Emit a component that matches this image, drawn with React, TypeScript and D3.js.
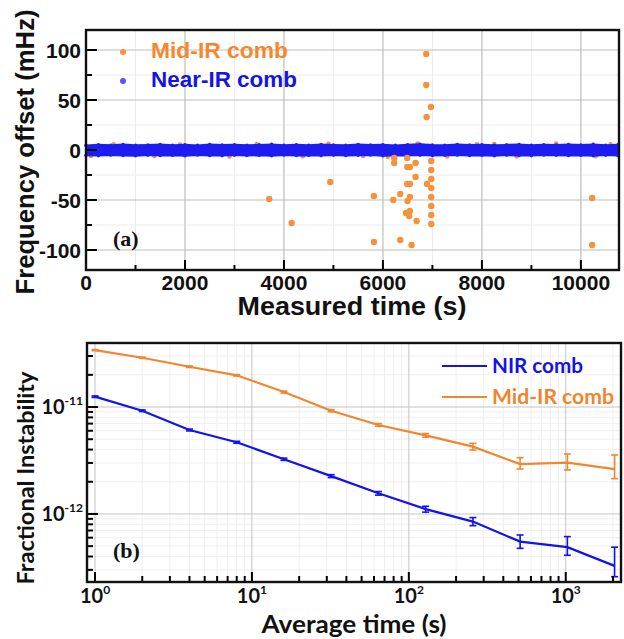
import * as d3 from 'd3'

// panel (a): measured time trace
const timeTicks = [0, 2000, 4000, 6000, 8000, 10000]
const timeMinor = [1000, 3000, 5000, 7000, 9000]
const offsetTicks = [-100, -50, 0, 50, 100]
const offsetMinor = [-75, -25, 25, 75]

// Mid-IR outliers (s, mHz)
const midOutT = [3703, 4155, 4936, 5818, 5818, 6208, 6228, 6228, 6350, 6350, 6491, 6491, 6491, 6497, 6545, 6545, 6545, 6545, 6465, 6531, 6579, 6660, 6660, 6680, 6875, 6875, 6883, 6970, 6889, 6976, 6976, 6976, 6976, 6976, 6976, 6976, 6976, 10228, 10228]
const midOutV = [-49, -73, -32, -46, -92, -50, -8, -13, -44, -90, -8, -17, -34, -51, -17, -34, -47, -61, -63, -66, -95, -13, -27, -71, 96, 65, 33, 43, -34, -11, -20, -29, -38, -47, -56, -65, -74, -48, -95]

// Mid-IR points peeking out of the Near-IR band
const midBandT = [100, 560, 1380, 1900, 2900, 3450, 4380, 4900, 5600, 6100, 6700, 7300, 7900, 8250, 8700, 9500, 10300, 10600]
const midBandV = [-6, 5.8, -6, 5.5, -6.5, 6, -6.3, 6.2, -6, -6.8, 6.4, -6.5, 5.8, 6, -6.5, 6.4, -6.3, 5.6]

// Near-IR band envelope (mHz)
const nirBandT = [0, 250, 500, 750, 1000, 1250, 1500, 1750, 2000, 2250, 2500, 2750, 3000, 3250, 3500, 3750, 4000, 4250, 4500, 4750, 5000, 5250, 5500, 5750, 6000, 6250, 6500, 6750, 7000, 7250, 7500, 7750, 8000, 8250, 8500, 8750, 9000, 9250, 9500, 9750, 10000, 10250, 10500, 10750]
const nirBandHi = [4.6, 5.2, 4.8, 5.4, 4.7, 5.0, 5.5, 4.8, 5.2, 4.6, 5.4, 4.9, 5.3, 4.7, 5.1, 5.6, 4.8, 5.2, 4.7, 5.4, 5.0, 4.8, 5.5, 4.9, 5.3, 4.6, 5.2, 5.7, 5.0, 4.8, 5.4, 4.9, 5.3, 4.7, 5.1, 5.5, 4.8, 5.2, 4.9, 5.4, 5.0, 5.6, 4.8, 5.2]
const nirBandLo = [-5.2, -5.6, -5.0, -5.4, -5.8, -5.1, -5.5, -5.2, -5.7, -5.0, -5.4, -5.6, -5.1, -5.5, -5.3, -5.7, -5.0, -5.4, -5.2, -5.6, -5.1, -5.5, -5.3, -5.0, -5.7, -5.2, -5.4, -5.1, -5.6, -5.3, -5.0, -5.5, -5.2, -5.7, -5.1, -5.4, -5.6, -5.0, -5.3, -5.5, -5.2, -5.7, -5.1, -5.4]

// panel (b): Allan deviation
const tau = [1, 2, 4, 8, 16, 32, 64, 128, 256, 512, 1024, 2048]
const midAdev = [3.41e-11, 2.89e-11, 2.38e-11, 1.98e-11, 1.38e-11, 9.24e-12, 6.79e-12, 5.43e-12, 4.26e-12, 2.93e-12, 3.02e-12, 2.63e-12]
const midHi = [3.45e-11, 2.93e-11, 2.42e-11, 2.01e-11, 1.41e-11, 9.45e-12, 7.0e-12, 5.65e-12, 4.58e-12, 3.36e-12, 3.64e-12, 3.56e-12]
const midLo = [3.37e-11, 2.85e-11, 2.34e-11, 1.95e-11, 1.35e-11, 9.03e-12, 6.6e-12, 5.22e-12, 3.96e-12, 2.63e-12, 2.58e-12, 2.14e-12]
const nirAdev = [1.25e-11, 9.24e-12, 6.1e-12, 4.68e-12, 3.25e-12, 2.26e-12, 1.56e-12, 1.11e-12, 8.48e-13, 5.51e-13, 4.89e-13, 3.27e-13]
const nirHi = [1.27e-11, 9.4e-12, 6.22e-12, 4.78e-12, 3.33e-12, 2.33e-12, 1.62e-12, 1.18e-12, 9.25e-13, 6.36e-13, 6.14e-13, 4.89e-13]
const nirLo = [1.23e-11, 9.08e-12, 5.98e-12, 4.58e-12, 3.17e-12, 2.19e-12, 1.5e-12, 1.04e-12, 7.77e-13, 4.77e-13, 4.11e-13, 2.59e-13]
const tauDecades = [1, 10, 100, 1000]
const tauExp = ['0', '1', '2', '3']
const adevDecades = [1e-11, 1e-12]
const adevExp = ['-11', '-12']

const ORANGE = '#f7923c'
const BLUE = '#1d1df2'
const LINE_BLUE = '#1212f0'
const LINE_ORANGE = '#f0872e'
const ARIAL = '"Liberation Sans", Arial, sans-serif'
const CALIBRI = 'Lato, "Open Sans", sans-serif'

const App = () => {
	// ---------------- panel (a) scales
	const xA = d3.scaleLinear().domain([0, 10770]).range([86, 619])
	const yA = d3.scaleLinear().domain([-120, 120]).range([270, 30])
	const [aL, aR] = xA.range()
	const [aB, aT] = yA.range()

	const band = d3
		.area<number>()
		.x((d, i) => xA(nirBandT[i]))
		.y0((d, i) => yA(nirBandLo[i]))
		.y1((d, i) => yA(nirBandHi[i]))
		.curve(d3.curveLinear)

	// ---------------- panel (b) scales
	const xB = d3.scaleLog().domain([0.889, 2250]).range([87, 621])
	const yB = d3.scaleLog().domain([2.31e-13, 3.97e-11]).range([582, 343])
	const [bL, bR] = xB.range()
	const [bB, bT] = yB.range()

	const tauMinor: number[] = []
	;[1, 10, 100, 1000].forEach((d) => {
		for (let k = 2; k <= 9; k++) if (d * k < 2250) tauMinor.push(d * k)
	})
	const adevMinor: number[] = []
	;[1e-13, 1e-12, 1e-11].forEach((d) => {
		for (let k = 2; k <= 9; k++) {
			const v = d * k
			if (v > 2.31e-13 && v < 3.97e-11) adevMinor.push(v)
		}
	})

	const line = d3
		.line<number>()
		.x((d, i) => xB(tau[i]))
		.y((d) => yB(d))

	const errBars = (vals: number[], hi: number[], lo: number[], color: string) =>
		vals.map((v, i) => {
			const x = xB(tau[i])
			return (
				<g key={i} stroke={color} strokeWidth={1.6}>
					<line x1={x} x2={x} y1={yB(hi[i])} y2={yB(lo[i])} />
					<line x1={x - 3.5} x2={x + 3.5} y1={yB(hi[i])} y2={yB(hi[i])} />
					<line x1={x - 3.5} x2={x + 3.5} y1={yB(lo[i])} y2={yB(lo[i])} />
				</g>
			)
		})

	return (
		<svg width={624} height={639} style={{ position: 'absolute', left: 0, top: 0, background: '#fff' }}>
			{/* ================= panel (a) ================= */}
			<g>
				{timeMinor.map((t) => (
					<line key={'gm' + t} x1={xA(t)} x2={xA(t)} y1={aT} y2={aB} stroke="#ececec" strokeWidth={1} />
				))}
				{offsetMinor.map((v) => (
					<line key={'gmy' + v} x1={aL} x2={aR} y1={yA(v)} y2={yA(v)} stroke="#ececec" strokeWidth={1} />
				))}
				{timeTicks.map((t) => (
					<line key={'g' + t} x1={xA(t)} x2={xA(t)} y1={aT} y2={aB} stroke="#bdbdbd" strokeWidth={1.2} />
				))}
				{offsetTicks.map((v) => (
					<line key={'gy' + v} x1={aL} x2={aR} y1={yA(v)} y2={yA(v)} stroke="#bdbdbd" strokeWidth={1.2} />
				))}

				{/* mid-IR points in band */}
				{midBandT.map((t, i) => (
					<circle key={'mb' + i} cx={xA(t)} cy={yA(midBandV[i])} r={2.3} fill={ORANGE} />
				))}
				{/* near-IR band */}
				<path d={band(nirBandT) || ''} fill={BLUE} stroke={BLUE} strokeWidth={2} strokeLinejoin="round" />
				{nirBandT.map((t, i) => (
					<g key={'nb' + i} fill={BLUE}>
						<circle cx={xA(t)} cy={yA(nirBandHi[i])} r={1.8} />
						<circle cx={xA(t)} cy={yA(nirBandLo[i])} r={1.8} />
					</g>
				))}
				{/* mid-IR outliers */}
				{midOutT.map((t, i) => (
					<circle key={'mo' + i} cx={xA(t)} cy={yA(midOutV[i])} r={3.2} fill={ORANGE} />
				))}

				{/* ticks */}
				{timeTicks.map((t) => (
					<line key={'tx' + t} x1={xA(t)} x2={xA(t)} y1={aB} y2={aB - 10} stroke="#000" strokeWidth={2} />
				))}
				{timeMinor.map((t) => (
					<line key={'tmx' + t} x1={xA(t)} x2={xA(t)} y1={aB} y2={aB - 5} stroke="#000" strokeWidth={2} />
				))}
				{offsetTicks.map((v) => (
					<line key={'ty' + v} x1={aL} x2={aL + 11} y1={yA(v)} y2={yA(v)} stroke="#000" strokeWidth={2} />
				))}
				{offsetMinor.map((v) => (
					<line key={'tmy' + v} x1={aL} x2={aL + 6} y1={yA(v)} y2={yA(v)} stroke="#000" strokeWidth={2} />
				))}
				<rect x={aL} y={aT} width={aR - aL} height={aB - aT} fill="none" stroke="#111" strokeWidth={2.4} />

				{/* tick labels */}
				<g fontFamily={ARIAL} fontWeight="bold" fontSize={21} fill="#111">
					{timeTicks.map((t) => (
						<text key={'lx' + t} x={xA(t)} y={aB + 20} textAnchor="middle">
							{t}
						</text>
					))}
					{offsetTicks.map((v) => (
						<text key={'ly' + v} x={81} y={yA(v) + 7.5} textAnchor="end">
							{v}
						</text>
					))}
				</g>
				<text x={352} y={315} textAnchor="middle" fontFamily={ARIAL} fontWeight="bold" fontSize={25} textLength={229} lengthAdjust="spacingAndGlyphs" fill="#111">
					Measured time (s)
				</text>
				<text transform="translate(34,152) rotate(-90)" textAnchor="middle" fontFamily={ARIAL} fontWeight="bold" fontSize={25} textLength={285} lengthAdjust="spacingAndGlyphs" fill="#111">
					Frequency offset (mHz)
				</text>

				{/* legend */}
				<circle cx={123} cy={52} r={3} fill={ORANGE} />
				<circle cx={123} cy={81} r={3} fill={BLUE} opacity={0.75} />
				<g fontFamily={ARIAL} fontWeight="bold" fontSize={22}>
					<text x={151} y={58} fill="#f5882c" textLength={137} lengthAdjust="spacingAndGlyphs">
						Mid-IR comb
					</text>
					<text x={151} y={87} fill="#1414e6" textLength={146} lengthAdjust="spacingAndGlyphs">
						Near-IR comb
					</text>
				</g>
				<text x={113} y={246} fontFamily='"Liberation Serif", "Times New Roman", serif' fontWeight="bold" fontSize={22} fill="#111">
					(a)
				</text>
			</g>

			{/* ================= panel (b) ================= */}
			<g>
				{tauMinor.map((t) => (
					<line key={'bgm' + t} x1={xB(t)} x2={xB(t)} y1={bT} y2={bB} stroke="#efefef" strokeWidth={1} />
				))}
				{adevMinor.map((v) => (
					<line key={'bgmy' + v} x1={bL} x2={bR} y1={yB(v)} y2={yB(v)} stroke="#efefef" strokeWidth={1} />
				))}
				{tauDecades.map((t) => (
					<line key={'bg' + t} x1={xB(t)} x2={xB(t)} y1={bT} y2={bB} stroke="#c4c4c4" strokeWidth={1} />
				))}
				{adevDecades.map((v) => (
					<line key={'bgy' + v} x1={bL} x2={bR} y1={yB(v)} y2={yB(v)} stroke="#c4c4c4" strokeWidth={1} />
				))}

				<path d={line(midAdev) || ''} fill="none" stroke={LINE_ORANGE} strokeWidth={2.2} />
				{errBars(midAdev, midHi, midLo, LINE_ORANGE)}
				<path d={line(nirAdev) || ''} fill="none" stroke={LINE_BLUE} strokeWidth={2.2} />
				{errBars(nirAdev, nirHi, nirLo, LINE_BLUE)}

				{/* ticks */}
				{tauDecades.map((t) => (
					<line key={'btx' + t} x1={xB(t)} x2={xB(t)} y1={bB} y2={bB - 10} stroke="#000" strokeWidth={2} />
				))}
				{tauMinor.map((t) => (
					<line key={'btm' + t} x1={xB(t)} x2={xB(t)} y1={bB} y2={bB - 6} stroke="#000" strokeWidth={2} />
				))}
				{adevDecades.map((v) => (
					<line key={'bty' + v} x1={bL} x2={bL + 11} y1={yB(v)} y2={yB(v)} stroke="#000" strokeWidth={2} />
				))}
				{adevMinor.map((v) => (
					<line key={'btmy' + v} x1={bL} x2={bL + 6} y1={yB(v)} y2={yB(v)} stroke="#000" strokeWidth={2} />
				))}
				<rect x={bL} y={bT} width={bR - bL} height={bB - bT} fill="none" stroke="#111" strokeWidth={2.4} />

				{/* tick labels */}
				<g fontFamily={CALIBRI} fontWeight="bold" fontSize={20} fill="#111">
					{tauDecades.map((t, i) => (
						<text key={'blx' + t} x={xB(t)} y={603} textAnchor="middle">
							<tspan>10</tspan>
							<tspan dy={-9} fontSize={12}>
								{tauExp[i]}
							</tspan>
						</text>
					))}
					{adevDecades.map((v, i) => (
						<text key={'bly' + v} x={83} y={yB(v) + 7} textAnchor="end">
							<tspan>10</tspan>
							<tspan dy={-9} fontSize={12}>
								{adevExp[i]}
							</tspan>
						</text>
					))}
				</g>
				<text x={354} y={633} textAnchor="middle" fontFamily={CALIBRI} fontWeight="bold" fontSize={24} textLength={185} lengthAdjust="spacingAndGlyphs" fill="#111">
					Average time (s)
				</text>
				<text transform="translate(34,478) rotate(-90)" textAnchor="middle" fontFamily={CALIBRI} fontWeight="bold" fontSize={23} textLength={213} lengthAdjust="spacingAndGlyphs" fill="#111">
					Fractional Instability
				</text>

				{/* legend */}
				<line x1={442} x2={487} y1={366} y2={366} stroke={LINE_BLUE} strokeWidth={2.2} />
				<line x1={442} x2={487} y1={397} y2={397} stroke={LINE_ORANGE} strokeWidth={2.2} />
				<g fontFamily={CALIBRI} fontWeight="bold" fontSize={21}>
					<text x={492} y={373} fill="#1212ee" textLength={91} lengthAdjust="spacingAndGlyphs">
						NIR comb
					</text>
					<text x={492} y={404} fill="#f0852d" textLength={122} lengthAdjust="spacingAndGlyphs">
						Mid-IR comb
					</text>
				</g>
				<text x={113} y={558} fontFamily='"Liberation Serif", "Times New Roman", serif' fontWeight="bold" fontSize={22} fill="#111">
					(b)
				</text>
			</g>
		</svg>
	)
}

export default App
